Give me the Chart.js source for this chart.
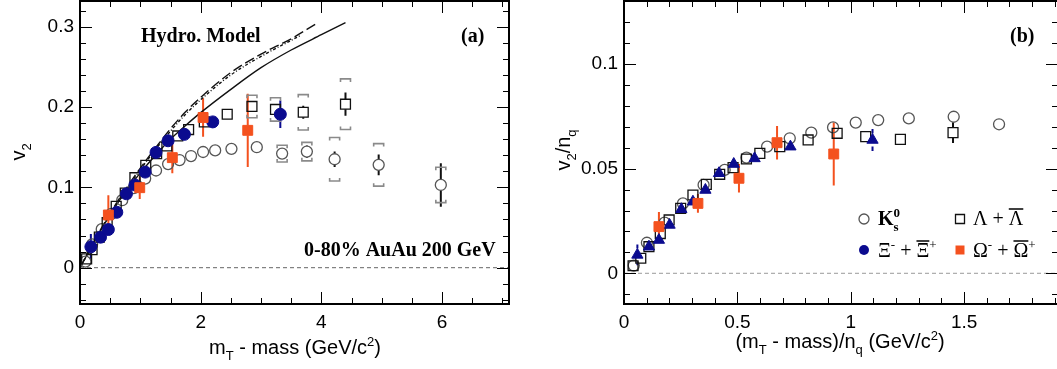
<!DOCTYPE html>
<html>
<head>
<meta charset="utf-8">
<script src="https://cdn.jsdelivr.net/npm/chart.js@4.4.1/dist/chart.umd.min.js"></script>
<style>
  html, body { margin: 0; padding: 0; background: #fff; overflow: hidden; }
  body { width: 1057px; height: 369px; position: relative; }
  .panel { position: absolute; top: 0; width: 530px; height: 369px; }
</style>
</head>
<body>
<div class="panel" style="left:0"><canvas id="left"></canvas></div>
<div class="panel" style="left:530px"><canvas id="right"></canvas></div>
<script>
// ---- panel (a): v2 vs mT - mass ----
var k0sX = [0.09, 0.2, 0.36, 0.52, 0.7, 0.89, 1.08, 1.26, 1.46, 1.65, 1.84, 2.04, 2.24, 2.51, 2.93, 3.35, 3.76, 4.22, 4.95, 5.98];
var k0sY = [0.0075, 0.029, 0.048, 0.067, 0.084, 0.099, 0.111, 0.121, 0.129, 0.134, 0.139, 0.144, 0.146, 0.148, 0.150, 0.142, 0.1445, 0.135, 0.128, 0.103];
var k0sErr = [0, 0, 0, 0, 0, 0, 0, 0, 0, 0, 0, 0, 0, 0, 0.002, 0.003, 0.0075, 0.0095, 0.013, 0.027];
var k0sSys = [0, 0, 0, 0, 0, 0, 0, 0, 0, 0, 0, 0, 0, 0, 0, 0.0105, 0.0115, 0.027, 0.0265, 0.022];

var lamX = [0.11, 0.2, 0.32, 0.45, 0.6, 0.75, 0.91, 1.09, 1.27, 1.44, 1.62, 1.8, 2.06, 2.44, 2.85, 3.24, 3.7, 4.4];
var lamY = [0.011, 0.0225, 0.038, 0.056, 0.0765, 0.093, 0.112, 0.1275, 0.142, 0.1515, 0.164, 0.172, 0.1815, 0.191, 0.2007, 0.197, 0.1935, 0.2035];
var lamErr = [0, 0, 0, 0, 0, 0, 0, 0, 0, 0, 0, 0, 0, 0, 0.002, 0.003, 0.008, 0.0145];
var lamSys = [0, 0, 0, 0, 0, 0, 0, 0, 0, 0, 0, 0, 0, 0, 0.014, 0.0145, 0.022, 0.0315];

var xiX = [0.18, 0.34, 0.47, 0.61, 0.77, 0.91, 1.08, 1.26, 1.46, 1.73, 2.2, 3.32];
var xiY = [0.026, 0.038, 0.0475, 0.069, 0.092, 0.103, 0.119, 0.1435, 0.158, 0.166, 0.1815, 0.191];
var xiErr = [0.016, 0.004, 0.005, 0.003, 0.002, 0.002, 0.002, 0.002, 0.003, 0.003, 0.003, 0.017];

var omX = [0.47, 0.99, 1.53, 2.04, 2.78];
var omY = [0.0656, 0.0996, 0.137, 0.187, 0.171];
var omErr = [0.0245, 0.014, 0.0195, 0.024, 0.0455];

// hydro model curves
var hydroX = [0, 0.25, 0.5, 0.75, 1.0, 1.25, 1.5, 1.75, 2.0, 2.5, 3.0, 3.5, 4.0, 4.4];
var hydroSolid = [0, 0.034, 0.066, 0.094, 0.118, 0.14, 0.16, 0.177, 0.193, 0.222, 0.249, 0.271, 0.29, 0.305];
var hydroDashX = [0, 0.25, 0.5, 0.75, 1.0, 1.25, 1.5, 1.75, 2.0, 2.5, 3.0, 3.5, 3.9];
var hydroDash = [0, 0.035, 0.068, 0.097, 0.124, 0.149, 0.173, 0.194, 0.212, 0.243, 0.266, 0.285, 0.303];
var hydroDotX = [0, 0.25, 0.5, 0.75, 1.0, 1.25, 1.5, 1.75, 2.0, 2.5, 3.0, 3.5, 3.65];
var hydroDot = [0, 0.034, 0.067, 0.095, 0.122, 0.147, 0.17, 0.191, 0.209, 0.24, 0.263, 0.283, 0.289];

var aXTicks = [0, 2, 4, 6];
var aYTicks = [0, 0.1, 0.2, 0.3];

// ---- panel (b): v2/nq vs (mT - mass)/nq ----
var k0sBX = [0.043, 0.101, 0.179, 0.26, 0.351, 0.444, 0.54, 0.631, 0.731, 0.826, 0.922, 1.022, 1.121, 1.256, 1.454, 1.654];
var k0sBY = [0.0037, 0.0146, 0.0242, 0.0334, 0.0422, 0.0494, 0.0553, 0.0605, 0.0645, 0.0672, 0.0697, 0.072, 0.0732, 0.074, 0.0748, 0.0712];
var k0sBErr = [0, 0, 0, 0, 0, 0, 0, 0, 0, 0, 0, 0, 0, 0, 0.001, 0.0015];

var lamBX = [0.04, 0.074, 0.11, 0.16, 0.199, 0.25, 0.304, 0.363, 0.422, 0.481, 0.54, 0.599, 0.687, 0.812, 0.94, 1.066, 1.219, 1.451];
var lamBY = [0.0036, 0.0072, 0.0127, 0.019, 0.0255, 0.031, 0.0374, 0.0425, 0.0473, 0.0505, 0.0546, 0.0573, 0.0605, 0.0637, 0.0669, 0.0653, 0.064, 0.0672];
var lamBErr = [0, 0, 0, 0, 0, 0, 0, 0, 0, 0, 0, 0, 0, 0, 0, 0, 0.0015, 0.005];

var xiBX = [0.059, 0.11, 0.154, 0.201, 0.253, 0.304, 0.359, 0.419, 0.484, 0.576, 0.734, 1.096];
var xiBY = [0.0088, 0.0127, 0.0159, 0.0231, 0.0306, 0.0342, 0.0398, 0.0478, 0.0522, 0.0549, 0.0605, 0.0637];
var xiBErr = [0.005, 0.001, 0.001, 0.001, 0.001, 0.001, 0.001, 0.001, 0.001, 0.001, 0.001, 0.0053];

var omBX = [0.154, 0.326, 0.507, 0.675, 0.925];
var omBY = [0.0223, 0.0334, 0.0454, 0.0624, 0.057];
var omBErr = [0.007, 0.0045, 0.0068, 0.008, 0.015];

var bXTicks = [0, 0.5, 1, 1.5];
var bYTicks = [0, 0.05, 0.1];

var GREY = '#555', BLACK = '#111', BLUE = '#0b0b8f', ORANGE = '#f4511e';
var SANS = '"Liberation Sans", Arial, sans-serif';
var SERIF = '"Liberation Serif", "Times New Roman", serif';

function pts(xs, ys) {
  return xs.map(function (x, i) { return { x: x, y: ys[i] }; });
}

// text with sub/superscripts and overlines
function drawRich(ctx, parts, x, y, opt) {
  var size = opt.size, fam = opt.family, wt = opt.weight || 'normal';
  function fnt(p) {
    var small = (p.k === 'sub' || p.k === 'sup' || p.k === 'supk' || p.k === 'subk');
    var s = small ? Math.round(size * 0.66) : size;
    return (p.bold ? 'bold' : wt) + ' ' + s + 'px ' + fam;
  }
  var total = 0;
  parts.forEach(function (p) {
    ctx.font = fnt(p);
    p.w = ctx.measureText(p.t).width;
    if (p.k !== 'supk') total += p.w;
  });
  var cx = opt.align === 'center' ? x - total / 2 : x;
  ctx.save();
  ctx.fillStyle = opt.color || '#000';
  ctx.strokeStyle = opt.color || '#000';
  ctx.textBaseline = 'alphabetic';
  ctx.textAlign = 'left';
  parts.forEach(function (p) {
    ctx.font = fnt(p);
    var dy = 0;
    if (p.k === 'sub' || p.k === 'subk') dy = size * 0.28;
    if (p.k === 'sup' || p.k === 'supk') dy = -size * 0.42;
    ctx.fillText(p.t, cx, y + dy);
    if (p.over) {
      ctx.lineWidth = 1.5;
      ctx.beginPath();
      ctx.moveTo(cx, y - size * 0.8);
      ctx.lineTo(cx + p.w, y - size * 0.8);
      ctx.stroke();
    }
    if (p.k !== 'supk') cx += p.w;
  });
  ctx.restore();
}

// ROOT style frame: border, inner ticks, dashed zero line
var framePlugin = {
  id: 'frame',
  beforeDatasetsDraw: function (chart, args, o) {
    var ctx = chart.ctx, a = chart.chartArea, y0 = chart.scales.y.getPixelForValue(0);
    ctx.save();
    ctx.strokeStyle = o.zeroColor;
    ctx.lineWidth = 1;
    ctx.setLineDash([4, 3]);
    ctx.beginPath();
    ctx.moveTo(a.left, y0);
    ctx.lineTo(a.right, y0);
    ctx.stroke();
    ctx.restore();
  },
  afterDraw: function (chart, args, o) {
    var ctx = chart.ctx, a = chart.chartArea, sx = chart.scales.x, sy = chart.scales.y;
    ctx.save();
    ctx.strokeStyle = '#000';
    ctx.lineWidth = 1;
    var v, p, len;
    for (v = sx.min; v <= sx.max + 1e-9; v += o.xMinor) {
      var xv = Math.round(v / o.xMinor) * o.xMinor;
      len = Math.abs(xv / o.xMajor - Math.round(xv / o.xMajor)) < 1e-6 ? 12 : 6;
      p = Math.round(sx.getPixelForValue(xv)) + 0.5;
      ctx.beginPath();
      ctx.moveTo(p, a.bottom); ctx.lineTo(p, a.bottom - len);
      ctx.moveTo(p, a.top); ctx.lineTo(p, a.top + len);
      ctx.stroke();
    }
    var start = Math.ceil(sy.min / o.yMinor) * o.yMinor;
    for (v = start; v <= sy.max + 1e-9; v += o.yMinor) {
      var yv = Math.round(v / o.yMinor) * o.yMinor;
      len = Math.abs(yv / o.yMajor - Math.round(yv / o.yMajor)) < 1e-6 ? 12 : 6;
      p = Math.round(sy.getPixelForValue(yv)) + 0.5;
      ctx.beginPath();
      ctx.moveTo(a.left, p); ctx.lineTo(a.left + len, p);
      ctx.moveTo(a.right, p); ctx.lineTo(a.right - len, p);
      ctx.stroke();
    }
    ctx.lineWidth = 2;
    ctx.strokeRect(a.left, a.top, a.right - a.left, a.bottom - a.top);
    ctx.restore();
  }
};

// statistical error bars and systematic brackets
var errorPlugin = {
  id: 'errbars',
  beforeDatasetsDraw: function (chart) {
    var ctx = chart.ctx, sx = chart.scales.x, sy = chart.scales.y;
    ctx.save();
    chart.data.datasets.forEach(function (ds) {
      if (!ds.errors && !ds.sys) return;
      var r = ds.pointStyle === 'rect' ? ds.pointRadius * Math.SQRT1_2 : ds.pointRadius;
      ds.data.forEach(function (d, i) {
        var px = sx.getPixelForValue(d.x), py = sy.getPixelForValue(d.y);
        var e = ds.errors ? ds.errors[i] : 0;
        if (e) {
          var hi = sy.getPixelForValue(d.y + e), lo = sy.getPixelForValue(d.y - e);
          ctx.strokeStyle = ds.errColor || ds.borderColor;
          ctx.lineWidth = 2;
          ctx.beginPath();
          if (hi < py - r) { ctx.moveTo(px, py - r); ctx.lineTo(px, hi); }
          if (lo > py + r) { ctx.moveTo(px, py + r); ctx.lineTo(px, lo); }
          ctx.stroke();
        }
        var s = ds.sys ? ds.sys[i] : 0;
        if (s) {
          var sh = sy.getPixelForValue(d.y + s), sl = sy.getPixelForValue(d.y - s);
          ctx.strokeStyle = '#8a8a8a';
          ctx.lineWidth = 1.6;
          ctx.beginPath();
          ctx.moveTo(px - 5, sh + 3); ctx.lineTo(px - 5, sh); ctx.lineTo(px + 5, sh); ctx.lineTo(px + 5, sh + 3);
          ctx.moveTo(px - 5, sl - 3); ctx.lineTo(px - 5, sl); ctx.lineTo(px + 5, sl); ctx.lineTo(px + 5, sl - 3);
          ctx.stroke();
        }
      });
    });
    ctx.restore();
  }
};

// axis titles and in-plot labels
var labelPlugin = {
  id: 'labels',
  afterDraw: function (chart, args, o) {
    var ctx = chart.ctx;
    o.items.forEach(function (it) {
      if (it.rotate) {
        ctx.save();
        ctx.translate(it.x, it.y);
        ctx.rotate(-Math.PI / 2);
        drawRich(ctx, it.parts, 0, 0, it.font);
        ctx.restore();
      } else {
        drawRich(ctx, it.parts, it.x, it.y, it.font);
      }
    });
    if (o.legend) {
      o.legend.forEach(function (lg) {
        ctx.save();
        ctx.lineWidth = 1.3;
        ctx.strokeStyle = lg.color;
        ctx.fillStyle = lg.color;
        ctx.beginPath();
        if (lg.shape === 'circle') ctx.arc(lg.mx, lg.my, 5, 0, Math.PI * 2);
        else ctx.rect(lg.mx - 4.5, lg.my - 4.5, 9, 9);
        if (lg.filled) ctx.fill(); else ctx.stroke();
        ctx.restore();
        drawRich(ctx, lg.parts, lg.tx, lg.ty, { size: 20, family: SERIF, align: 'left' });
      });
    }
  }
};

function axisFont() { return { size: 19, family: SANS }; }

function noPad(s) {
  s.paddingTop = 0; s.paddingBottom = 0; s.paddingLeft = 0; s.paddingRight = 0;
}

function makeChart(id, cfg) {
  return new Chart(document.getElementById(id), {
    type: 'scatter',
    data: { datasets: cfg.datasets },
    plugins: [framePlugin, errorPlugin, labelPlugin],
    options: {
      responsive: true,
      maintainAspectRatio: false,
      animation: false,
      events: [],
      layout: { padding: cfg.padding, autoPadding: false },
      plugins: {
        legend: { display: false },
        tooltip: { enabled: false },
        frame: cfg.frame,
        labels: cfg.labels
      },
      scales: {
        x: {
          type: 'linear', min: cfg.xMin, max: cfg.xMax,
          grid: { display: false, drawTicks: false },
          border: { display: false },
          afterBuildTicks: function (s) { s.ticks = cfg.xTicks.map(function (v) { return { value: v }; }); },
          afterFit: function (s) { s.height = cfg.xAxisH; noPad(s); },
          ticks: { padding: 7, color: '#000', font: axisFont(), maxRotation: 0,
                   callback: function (v) { return String(+v.toFixed(3)); } }
        },
        y: {
          type: 'linear', min: cfg.yMin, max: cfg.yMax,
          grid: { display: false, drawTicks: false },
          border: { display: false },
          afterBuildTicks: function (s) { s.ticks = cfg.yTicks.map(function (v) { return { value: v }; }); },
          afterFit: function (s) { s.width = cfg.yAxisW; noPad(s); },
          ticks: { padding: 6, color: '#000', font: axisFont(),
                   callback: function (v) { return String(+v.toFixed(3)); } }
        }
      }
    }
  });
}

function markerSet(label, xs, ys, style, opts) {
  return Object.assign({
    label: label,
    data: pts(xs, ys),
    pointStyle: style,
    showLine: false
  }, opts);
}

function curve(xs, ys, dash, order) {
  return {
    type: 'line',
    data: pts(xs, ys),
    borderColor: '#111',
    borderWidth: 1.4,
    borderDash: dash,
    pointRadius: 0,
    cubicInterpolationMode: 'monotone',
    fill: false,
    order: order
  };
}

var openCircle = { pointRadius: 5.5, borderColor: GREY, backgroundColor: 'rgba(0,0,0,0)', pointBorderWidth: 1.3, borderWidth: 1.3 };
var openSquare = { pointRadius: 7, borderColor: BLACK, backgroundColor: 'rgba(0,0,0,0)', pointBorderWidth: 1.3, borderWidth: 1.3 };
var blueFill = { pointRadius: 6, borderColor: BLUE, backgroundColor: BLUE, pointBorderWidth: 1, borderWidth: 1 };
var orangeFill = { pointRadius: 7, borderColor: ORANGE, backgroundColor: ORANGE, pointBorderWidth: 1, borderWidth: 1 };

var titleFont = { size: 20, family: SANS, align: 'center' };
var boldSerif = { size: 20, family: SERIF, weight: 'bold', align: 'left' };

makeChart('left', {
  padding: { top: 1, right: 21, left: 0, bottom: 0 },
  xAxisH: 65, yAxisW: 80,
  xMin: 0, xMax: 7.11, yMin: -0.0452, yMax: 0.332,
  xTicks: aXTicks, yTicks: aYTicks,
  frame: { xMinor: 0.5, xMajor: 2, yMinor: 0.02, yMajor: 0.1, zeroColor: '#666' },
  labels: {
    items: [
      { parts: [{ t: 'v', k: 'n' }, { t: '2', k: 'sub' }], x: 25, y: 152, rotate: true, font: titleFont },
      { parts: [{ t: 'm', k: 'n' }, { t: 'T', k: 'sub' }, { t: ' - mass (GeV/c', k: 'n' }, { t: '2', k: 'sup' }, { t: ')', k: 'n' }],
        x: 295, y: 354, font: titleFont },
      { parts: [{ t: 'Hydro. Model', k: 'n' }], x: 141, y: 42, font: boldSerif },
      { parts: [{ t: '(a)', k: 'n' }], x: 461, y: 42, font: boldSerif },
      { parts: [{ t: '0-80% AuAu 200 GeV', k: 'n' }], x: 304, y: 256, font: boldSerif }
    ]
  },
  datasets: [
    markerSet('Omega', omX, omY, 'rect', Object.assign({ errors: omErr, order: 1 }, orangeFill)),
    markerSet('Xi', xiX, xiY, 'circle', Object.assign({ errors: xiErr, order: 2 }, blueFill)),
    markerSet('Lambda', lamX, lamY, 'rect', Object.assign({ errors: lamErr, sys: lamSys, order: 3 }, openSquare)),
    markerSet('K0s', k0sX, k0sY, 'circle', Object.assign({ errors: k0sErr, sys: k0sSys, order: 4, errColor: BLACK }, openCircle)),
    curve(hydroX, hydroSolid, [], 5),
    curve(hydroDashX, hydroDash, [10, 4], 6),
    curve(hydroDotX, hydroDot, [3, 2, 1, 2], 7)
  ]
});

makeChart('right', {
  padding: { top: 1, right: 2, left: 0, bottom: 0 },
  xAxisH: 65, yAxisW: 94,
  xMin: 0, xMax: 1.914, yMin: -0.01467, yMax: 0.1301,
  xTicks: bXTicks, yTicks: bYTicks,
  frame: { xMinor: 0.1, xMajor: 0.5, yMinor: 0.01, yMajor: 0.05, zeroColor: '#999' },
  labels: {
    items: [
      { parts: [{ t: 'v', k: 'n' }, { t: '2', k: 'sub' }, { t: '/n', k: 'n' }, { t: 'q', k: 'sub' }], x: 40, y: 150, rotate: true, font: titleFont },
      { parts: [{ t: '(m', k: 'n' }, { t: 'T', k: 'sub' }, { t: ' - mass)/n', k: 'n' }, { t: 'q', k: 'sub' },
                { t: ' (GeV/c', k: 'n' }, { t: '2', k: 'sup' }, { t: ')', k: 'n' }],
        x: 310, y: 348, font: titleFont },
      { parts: [{ t: '(b)', k: 'n' }], x: 480, y: 42, font: boldSerif }
    ],
    legend: [
      { shape: 'circle', filled: false, color: GREY, mx: 334, my: 219, tx: 348, ty: 225,
        parts: [{ t: 'K', k: 'n', bold: true }, { t: '0', k: 'supk', bold: true }, { t: 's', k: 'subk', bold: true }] },
      { shape: 'rect', filled: false, color: BLACK, mx: 430, my: 219, tx: 443, ty: 225,
        parts: [{ t: 'Λ + ', k: 'n' }, { t: 'Λ', k: 'n', over: true }] },
      { shape: 'circle', filled: true, color: BLUE, mx: 334, my: 250, tx: 348, ty: 257,
        parts: [{ t: 'Ξ', k: 'n' }, { t: '-', k: 'sup' }, { t: ' + ', k: 'n' }, { t: 'Ξ', k: 'n', over: true }, { t: '+', k: 'sup' }] },
      { shape: 'rect', filled: true, color: ORANGE, mx: 430, my: 250, tx: 443, ty: 257,
        parts: [{ t: 'Ω', k: 'n' }, { t: '-', k: 'sup' }, { t: ' + ', k: 'n' }, { t: 'Ω', k: 'n', over: true }, { t: '+', k: 'sup' }] }
    ]
  },
  datasets: [
    markerSet('Omega', omBX, omBY, 'rect', Object.assign({ errors: omBErr, order: 1 }, orangeFill)),
    markerSet('Xi', xiBX, xiBY, 'triangle', Object.assign({ errors: xiBErr, order: 2 }, blueFill, { pointRadius: 6.5 })),
    markerSet('Lambda', lamBX, lamBY, 'rect', Object.assign({ errors: lamBErr, order: 3 }, openSquare)),
    markerSet('K0s', k0sBX, k0sBY, 'circle', Object.assign({ errors: k0sBErr, order: 4, errColor: BLACK }, openCircle))
  ]
});
</script>
</body>
</html>
